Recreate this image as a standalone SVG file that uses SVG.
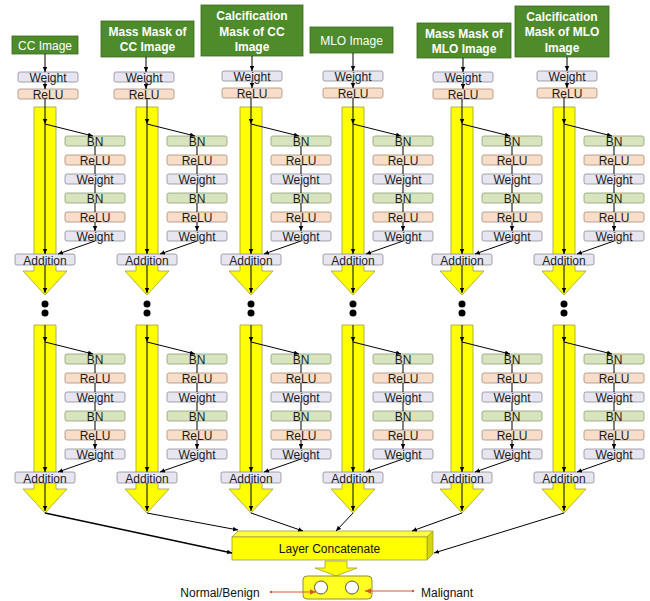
<svg xmlns="http://www.w3.org/2000/svg" width="650" height="601" viewBox="0 0 650 601">
<defs>
<style>
.w{fill:#E7E6F0;stroke:#8C8C98;stroke-width:0.8}
.r{fill:#F8DDC8;stroke:#A58E7C;stroke-width:0.8}
.b{fill:#D7E4BE;stroke:#909F76;stroke-width:0.8}
.t{font-family:"Liberation Sans",Arial,sans-serif;font-size:12px;fill:#1a1a1a;text-anchor:middle}
.g{fill:#4D8B2B;stroke:#3A6A1F;stroke-width:0.8}
.gt{font-family:"Liberation Sans",Arial,sans-serif;font-size:12px;fill:#ffffff;text-anchor:middle}
.gb{font-weight:bold}
.y{fill:#FFFF00;stroke:#9E9E3A;stroke-width:0.8}
.c{stroke:#000;stroke-width:1;fill:none;marker-end:url(#ah)}
.d{fill:#000}
.rd{stroke:#D9582E;stroke-width:1.2;fill:none;marker-end:url(#rh)}
</style>
<marker id="ah" viewBox="0 0 10 10" refX="10" refY="5" markerWidth="5" markerHeight="5" markerUnits="userSpaceOnUse" orient="auto"><path d="M0,0.5 L10,5 L0,9.5 z" fill="#000"/></marker>
<marker id="rh" viewBox="0 0 10 10" refX="10" refY="5" markerWidth="6" markerHeight="6" markerUnits="userSpaceOnUse" orient="auto"><path d="M0,0.5 L10,5 L0,9.5 z" fill="#D9582E"/></marker>
</defs>
<rect width="650" height="601" fill="#ffffff"/>

<!-- yellow flow columns -->
<g id="flows">
<path class="y" d="M34,107 H56 V271 H67 L45,295 L23,271 H34 Z"/>
<path class="y" d="M136,107 H158 V271 H169 L147,295 L125,271 H136 Z"/>
<path class="y" d="M240,107 H262 V271 H273 L251,295 L229,271 H240 Z"/>
<path class="y" d="M342,107 H364 V271 H375 L353,295 L331,271 H342 Z"/>
<path class="y" d="M451,107 H473 V271 H484 L462,295 L440,271 H451 Z"/>
<path class="y" d="M553,107 H575 V271 H586 L564,295 L542,271 H553 Z"/>
<path class="y" d="M34,325 H56 V489 H67 L45,513 L23,489 H34 Z"/>
<path class="y" d="M136,325 H158 V489 H169 L147,513 L125,489 H136 Z"/>
<path class="y" d="M240,325 H262 V489 H273 L251,513 L229,489 H240 Z"/>
<path class="y" d="M342,325 H364 V489 H375 L353,513 L331,489 H342 Z"/>
<path class="y" d="M451,325 H473 V489 H484 L462,513 L440,489 H451 Z"/>
<path class="y" d="M553,325 H575 V489 H586 L564,513 L542,489 H553 Z"/>
</g>

<g id="dots">
<circle class="d" cx="45" cy="304" r="3.5"/><circle class="d" cx="45" cy="313" r="3.5"/>
<circle class="d" cx="147" cy="304" r="3.5"/><circle class="d" cx="147" cy="313" r="3.5"/>
<circle class="d" cx="251" cy="304" r="3.5"/><circle class="d" cx="251" cy="313" r="3.5"/>
<circle class="d" cx="353" cy="304" r="3.5"/><circle class="d" cx="353" cy="313" r="3.5"/>
<circle class="d" cx="462" cy="304" r="3.5"/><circle class="d" cx="462" cy="313" r="3.5"/>
<circle class="d" cx="564" cy="304" r="3.5"/><circle class="d" cx="564" cy="313" r="3.5"/>
</g>

<!-- inputs -->
<g id="in1"><rect class="g" x="12" y="36" width="66" height="18"/><text class="gt" x="45" y="49.5">CC Image</text></g>
<g id="in2"><rect class="g" x="101" y="21" width="93" height="36"/><text class="gt gb" x="147.5" y="36">Mass Mask of</text><text class="gt gb" x="147.5" y="51">CC Image</text></g>
<g id="in3"><rect class="g" x="201" y="5" width="102" height="51"/><text class="gt gb" x="252" y="20">Calcification</text><text class="gt gb" x="252" y="35.5">Mask of CC</text><text class="gt gb" x="252" y="51">Image</text></g>
<g id="in4"><rect class="g" x="310" y="27" width="83" height="26"/><text class="gt" x="351.5" y="45">MLO Image</text></g>
<g id="in5"><rect class="g" x="417" y="23" width="94" height="35"/><text class="gt gb" x="464" y="37.5">Mass Mask of</text><text class="gt gb" x="464" y="53">MLO Image</text></g>
<g id="in6"><rect class="g" x="515" y="6" width="94" height="51"/><text class="gt gb" x="562" y="20.5">Calcification</text><text class="gt gb" x="562" y="36">Mask of MLO</text><text class="gt gb" x="562" y="51.5">Image</text></g>

<!-- top weight/relu -->
<g id="c1_w0"><rect class="w" x="18" y="72" width="60" height="10" rx="2"/><text class="t" x="48" y="82">Weight</text></g>
<g id="c1_r0"><rect class="r" x="18" y="89" width="60" height="10" rx="2"/><text class="t" x="48" y="99">ReLU</text></g>
<g id="c2_w0"><rect class="w" x="114" y="72" width="60" height="10" rx="2"/><text class="t" x="144" y="82">Weight</text></g>
<g id="c2_r0"><rect class="r" x="114" y="89" width="60" height="10" rx="2"/><text class="t" x="144" y="99">ReLU</text></g>
<g id="c3_w0"><rect class="w" x="222" y="71" width="60" height="10" rx="2"/><text class="t" x="252" y="81">Weight</text></g>
<g id="c3_r0"><rect class="r" x="222" y="88" width="60" height="10" rx="2"/><text class="t" x="252" y="98">ReLU</text></g>
<g id="c4_w0"><rect class="w" x="323" y="71" width="60" height="10" rx="2"/><text class="t" x="353" y="81">Weight</text></g>
<g id="c4_r0"><rect class="r" x="323" y="88" width="60" height="10" rx="2"/><text class="t" x="353" y="98">ReLU</text></g>
<g id="c5_w0"><rect class="w" x="433" y="72" width="60" height="10" rx="2"/><text class="t" x="463" y="82">Weight</text></g>
<g id="c5_r0"><rect class="r" x="433" y="89" width="60" height="10" rx="2"/><text class="t" x="463" y="99">ReLU</text></g>
<g id="c6_w0"><rect class="w" x="537" y="71" width="60" height="10" rx="2"/><text class="t" x="567" y="81">Weight</text></g>
<g id="c6_r0"><rect class="r" x="537" y="88" width="60" height="10" rx="2"/><text class="t" x="567" y="98">ReLU</text></g>

<!-- column 1 blocks -->
<g id="c1_b1"><rect class="b" x="65" y="136" width="60" height="10" rx="2"/><text class="t" x="95" y="146">BN</text></g>
<g id="c1_r1"><rect class="r" x="65" y="155" width="60" height="10" rx="2"/><text class="t" x="95" y="165">ReLU</text></g>
<g id="c1_w1"><rect class="w" x="65" y="174" width="60" height="10" rx="2"/><text class="t" x="95" y="184">Weight</text></g>
<g id="c1_b2"><rect class="b" x="65" y="193" width="60" height="10" rx="2"/><text class="t" x="95" y="203">BN</text></g>
<g id="c1_r2"><rect class="r" x="65" y="212" width="60" height="10" rx="2"/><text class="t" x="95" y="222">ReLU</text></g>
<g id="c1_w2"><rect class="w" x="65" y="231" width="60" height="10" rx="2"/><text class="t" x="95" y="241">Weight</text></g>
<g id="c1_a1"><rect class="w" x="15" y="254" width="60" height="11" rx="2"/><text class="t" x="45" y="264.5">Addition</text></g>
<g id="c1_b3"><rect class="b" x="65" y="354" width="60" height="10" rx="2"/><text class="t" x="95" y="364">BN</text></g>
<g id="c1_r3"><rect class="r" x="65" y="373" width="60" height="10" rx="2"/><text class="t" x="95" y="383">ReLU</text></g>
<g id="c1_w3"><rect class="w" x="65" y="392" width="60" height="10" rx="2"/><text class="t" x="95" y="402">Weight</text></g>
<g id="c1_b4"><rect class="b" x="65" y="411" width="60" height="10" rx="2"/><text class="t" x="95" y="421">BN</text></g>
<g id="c1_r4"><rect class="r" x="65" y="430" width="60" height="10" rx="2"/><text class="t" x="95" y="440">ReLU</text></g>
<g id="c1_w4"><rect class="w" x="65" y="449" width="60" height="10" rx="2"/><text class="t" x="95" y="459">Weight</text></g>
<g id="c1_a2"><rect class="w" x="15" y="472" width="60" height="11" rx="2"/><text class="t" x="45" y="482.5">Addition</text></g>

<!-- column 2 -->
<g id="c2_b1"><rect class="b" x="167" y="136" width="60" height="10" rx="2"/><text class="t" x="197" y="146">BN</text></g>
<g id="c2_r1"><rect class="r" x="167" y="155" width="60" height="10" rx="2"/><text class="t" x="197" y="165">ReLU</text></g>
<g id="c2_w1"><rect class="w" x="167" y="174" width="60" height="10" rx="2"/><text class="t" x="197" y="184">Weight</text></g>
<g id="c2_b2"><rect class="b" x="167" y="193" width="60" height="10" rx="2"/><text class="t" x="197" y="203">BN</text></g>
<g id="c2_r2"><rect class="r" x="167" y="212" width="60" height="10" rx="2"/><text class="t" x="197" y="222">ReLU</text></g>
<g id="c2_w2"><rect class="w" x="167" y="231" width="60" height="10" rx="2"/><text class="t" x="197" y="241">Weight</text></g>
<g id="c2_a1"><rect class="w" x="117" y="254" width="60" height="11" rx="2"/><text class="t" x="147" y="264.5">Addition</text></g>
<g id="c2_b3"><rect class="b" x="167" y="354" width="60" height="10" rx="2"/><text class="t" x="197" y="364">BN</text></g>
<g id="c2_r3"><rect class="r" x="167" y="373" width="60" height="10" rx="2"/><text class="t" x="197" y="383">ReLU</text></g>
<g id="c2_w3"><rect class="w" x="167" y="392" width="60" height="10" rx="2"/><text class="t" x="197" y="402">Weight</text></g>
<g id="c2_b4"><rect class="b" x="167" y="411" width="60" height="10" rx="2"/><text class="t" x="197" y="421">BN</text></g>
<g id="c2_r4"><rect class="r" x="167" y="430" width="60" height="10" rx="2"/><text class="t" x="197" y="440">ReLU</text></g>
<g id="c2_w4"><rect class="w" x="167" y="449" width="60" height="10" rx="2"/><text class="t" x="197" y="459">Weight</text></g>
<g id="c2_a2"><rect class="w" x="117" y="472" width="60" height="11" rx="2"/><text class="t" x="147" y="482.5">Addition</text></g>

<!-- column 3 -->
<g id="c3_b1"><rect class="b" x="271" y="136" width="60" height="10" rx="2"/><text class="t" x="301" y="146">BN</text></g>
<g id="c3_r1"><rect class="r" x="271" y="155" width="60" height="10" rx="2"/><text class="t" x="301" y="165">ReLU</text></g>
<g id="c3_w1"><rect class="w" x="271" y="174" width="60" height="10" rx="2"/><text class="t" x="301" y="184">Weight</text></g>
<g id="c3_b2"><rect class="b" x="271" y="193" width="60" height="10" rx="2"/><text class="t" x="301" y="203">BN</text></g>
<g id="c3_r2"><rect class="r" x="271" y="212" width="60" height="10" rx="2"/><text class="t" x="301" y="222">ReLU</text></g>
<g id="c3_w2"><rect class="w" x="271" y="231" width="60" height="10" rx="2"/><text class="t" x="301" y="241">Weight</text></g>
<g id="c3_a1"><rect class="w" x="221" y="254" width="60" height="11" rx="2"/><text class="t" x="251" y="264.5">Addition</text></g>
<g id="c3_b3"><rect class="b" x="271" y="354" width="60" height="10" rx="2"/><text class="t" x="301" y="364">BN</text></g>
<g id="c3_r3"><rect class="r" x="271" y="373" width="60" height="10" rx="2"/><text class="t" x="301" y="383">ReLU</text></g>
<g id="c3_w3"><rect class="w" x="271" y="392" width="60" height="10" rx="2"/><text class="t" x="301" y="402">Weight</text></g>
<g id="c3_b4"><rect class="b" x="271" y="411" width="60" height="10" rx="2"/><text class="t" x="301" y="421">BN</text></g>
<g id="c3_r4"><rect class="r" x="271" y="430" width="60" height="10" rx="2"/><text class="t" x="301" y="440">ReLU</text></g>
<g id="c3_w4"><rect class="w" x="271" y="449" width="60" height="10" rx="2"/><text class="t" x="301" y="459">Weight</text></g>
<g id="c3_a2"><rect class="w" x="221" y="472" width="60" height="11" rx="2"/><text class="t" x="251" y="482.5">Addition</text></g>

<!-- column 4 -->
<g id="c4_b1"><rect class="b" x="373" y="136" width="60" height="10" rx="2"/><text class="t" x="403" y="146">BN</text></g>
<g id="c4_r1"><rect class="r" x="373" y="155" width="60" height="10" rx="2"/><text class="t" x="403" y="165">ReLU</text></g>
<g id="c4_w1"><rect class="w" x="373" y="174" width="60" height="10" rx="2"/><text class="t" x="403" y="184">Weight</text></g>
<g id="c4_b2"><rect class="b" x="373" y="193" width="60" height="10" rx="2"/><text class="t" x="403" y="203">BN</text></g>
<g id="c4_r2"><rect class="r" x="373" y="212" width="60" height="10" rx="2"/><text class="t" x="403" y="222">ReLU</text></g>
<g id="c4_w2"><rect class="w" x="373" y="231" width="60" height="10" rx="2"/><text class="t" x="403" y="241">Weight</text></g>
<g id="c4_a1"><rect class="w" x="323" y="254" width="60" height="11" rx="2"/><text class="t" x="353" y="264.5">Addition</text></g>
<g id="c4_b3"><rect class="b" x="373" y="354" width="60" height="10" rx="2"/><text class="t" x="403" y="364">BN</text></g>
<g id="c4_r3"><rect class="r" x="373" y="373" width="60" height="10" rx="2"/><text class="t" x="403" y="383">ReLU</text></g>
<g id="c4_w3"><rect class="w" x="373" y="392" width="60" height="10" rx="2"/><text class="t" x="403" y="402">Weight</text></g>
<g id="c4_b4"><rect class="b" x="373" y="411" width="60" height="10" rx="2"/><text class="t" x="403" y="421">BN</text></g>
<g id="c4_r4"><rect class="r" x="373" y="430" width="60" height="10" rx="2"/><text class="t" x="403" y="440">ReLU</text></g>
<g id="c4_w4"><rect class="w" x="373" y="449" width="60" height="10" rx="2"/><text class="t" x="403" y="459">Weight</text></g>
<g id="c4_a2"><rect class="w" x="323" y="472" width="60" height="11" rx="2"/><text class="t" x="353" y="482.5">Addition</text></g>

<!-- column 5 -->
<g id="c5_b1"><rect class="b" x="482" y="136" width="60" height="10" rx="2"/><text class="t" x="512" y="146">BN</text></g>
<g id="c5_r1"><rect class="r" x="482" y="155" width="60" height="10" rx="2"/><text class="t" x="512" y="165">ReLU</text></g>
<g id="c5_w1"><rect class="w" x="482" y="174" width="60" height="10" rx="2"/><text class="t" x="512" y="184">Weight</text></g>
<g id="c5_b2"><rect class="b" x="482" y="193" width="60" height="10" rx="2"/><text class="t" x="512" y="203">BN</text></g>
<g id="c5_r2"><rect class="r" x="482" y="212" width="60" height="10" rx="2"/><text class="t" x="512" y="222">ReLU</text></g>
<g id="c5_w2"><rect class="w" x="482" y="231" width="60" height="10" rx="2"/><text class="t" x="512" y="241">Weight</text></g>
<g id="c5_a1"><rect class="w" x="432" y="254" width="60" height="11" rx="2"/><text class="t" x="462" y="264.5">Addition</text></g>
<g id="c5_b3"><rect class="b" x="482" y="354" width="60" height="10" rx="2"/><text class="t" x="512" y="364">BN</text></g>
<g id="c5_r3"><rect class="r" x="482" y="373" width="60" height="10" rx="2"/><text class="t" x="512" y="383">ReLU</text></g>
<g id="c5_w3"><rect class="w" x="482" y="392" width="60" height="10" rx="2"/><text class="t" x="512" y="402">Weight</text></g>
<g id="c5_b4"><rect class="b" x="482" y="411" width="60" height="10" rx="2"/><text class="t" x="512" y="421">BN</text></g>
<g id="c5_r4"><rect class="r" x="482" y="430" width="60" height="10" rx="2"/><text class="t" x="512" y="440">ReLU</text></g>
<g id="c5_w4"><rect class="w" x="482" y="449" width="60" height="10" rx="2"/><text class="t" x="512" y="459">Weight</text></g>
<g id="c5_a2"><rect class="w" x="432" y="472" width="60" height="11" rx="2"/><text class="t" x="462" y="482.5">Addition</text></g>

<!-- column 6 -->
<g id="c6_b1"><rect class="b" x="584" y="136" width="60" height="10" rx="2"/><text class="t" x="614" y="146">BN</text></g>
<g id="c6_r1"><rect class="r" x="584" y="155" width="60" height="10" rx="2"/><text class="t" x="614" y="165">ReLU</text></g>
<g id="c6_w1"><rect class="w" x="584" y="174" width="60" height="10" rx="2"/><text class="t" x="614" y="184">Weight</text></g>
<g id="c6_b2"><rect class="b" x="584" y="193" width="60" height="10" rx="2"/><text class="t" x="614" y="203">BN</text></g>
<g id="c6_r2"><rect class="r" x="584" y="212" width="60" height="10" rx="2"/><text class="t" x="614" y="222">ReLU</text></g>
<g id="c6_w2"><rect class="w" x="584" y="231" width="60" height="10" rx="2"/><text class="t" x="614" y="241">Weight</text></g>
<g id="c6_a1"><rect class="w" x="534" y="254" width="60" height="11" rx="2"/><text class="t" x="564" y="264.5">Addition</text></g>
<g id="c6_b3"><rect class="b" x="584" y="354" width="60" height="10" rx="2"/><text class="t" x="614" y="364">BN</text></g>
<g id="c6_r3"><rect class="r" x="584" y="373" width="60" height="10" rx="2"/><text class="t" x="614" y="383">ReLU</text></g>
<g id="c6_w3"><rect class="w" x="584" y="392" width="60" height="10" rx="2"/><text class="t" x="614" y="402">Weight</text></g>
<g id="c6_b4"><rect class="b" x="584" y="411" width="60" height="10" rx="2"/><text class="t" x="614" y="421">BN</text></g>
<g id="c6_r4"><rect class="r" x="584" y="430" width="60" height="10" rx="2"/><text class="t" x="614" y="440">ReLU</text></g>
<g id="c6_w4"><rect class="w" x="584" y="449" width="60" height="10" rx="2"/><text class="t" x="614" y="459">Weight</text></g>
<g id="c6_a2"><rect class="w" x="534" y="472" width="60" height="11" rx="2"/><text class="t" x="564" y="482.5">Addition</text></g>

<!-- concatenate -->
<g id="concat">
<polygon points="232,537 238,531 433,531 427,537" fill="#FFFF40" stroke="#9E9E3A" stroke-width="0.8"/>
<polygon points="427,537 433,531 433,554 427,560" fill="#D6D600" stroke="#9E9E3A" stroke-width="0.8"/>
<rect x="232" y="537" width="195" height="23" fill="#FFFF00" stroke="#9E9E3A" stroke-width="0.8"/>
<text class="t" x="329.5" y="553" style="fill:#111">Layer Concatenate</text>
</g>
<g id="down"><path class="y" d="M325,561 H347 V568 H357 L336,576 L315,568 H325 Z"/></g>
<g id="output">
<rect x="303" y="576" width="69" height="23" rx="4" fill="#FFFF22" stroke="#8E8E3A" stroke-width="1"/>
<circle cx="321" cy="587.5" r="6.5" fill="#fff" stroke="#555" stroke-width="1"/>
<circle cx="352" cy="587.5" r="6.5" fill="#fff" stroke="#555" stroke-width="1"/>
</g>
<g id="labels">
<text class="t" x="220" y="597" style="fill:#111">Normal/Benign</text>
<text class="t" x="447" y="597" style="fill:#111">Malignant</text>
</g>

<!-- connectors -->
<g id="connectors">
<!-- inputs to weight -->
<path class="c" d="M45,54 V72"/><path class="c" d="M146,57 V72"/><path class="c" d="M252,56 V71"/><path class="c" d="M353,53 V71"/><path class="c" d="M463,58 V72"/><path class="c" d="M567,57 V71"/>
<path class="c" d="M45,82 V89"/><path class="c" d="M146,82 V89"/><path class="c" d="M252,81 V88"/><path class="c" d="M353,81 V88"/><path class="c" d="M463,82 V89"/><path class="c" d="M567,81 V88"/>
<!-- relu to junction -->
<path class="c" d="M45,99 V124"/><path class="c" d="M147,99 V124"/><path class="c" d="M251,98 V124"/><path class="c" d="M353,98 V124"/><path class="c" d="M462,99 V124"/><path class="c" d="M564,98 V124"/>
<!-- block1 skip lines and branches, col1..6 -->
<path class="c" d="M45,124 V254"/><path class="c" d="M45,124 L93,136"/><path class="c" d="M95,241 L58,254"/><path class="c" d="M45,265 V293"/>
<path class="c" d="M147,124 V254"/><path class="c" d="M147,124 L195,136"/><path class="c" d="M197,241 L160,254"/><path class="c" d="M147,265 V293"/>
<path class="c" d="M251,124 V254"/><path class="c" d="M251,124 L299,136"/><path class="c" d="M301,241 L264,254"/><path class="c" d="M251,265 V293"/>
<path class="c" d="M353,124 V254"/><path class="c" d="M353,124 L401,136"/><path class="c" d="M403,241 L366,254"/><path class="c" d="M353,265 V293"/>
<path class="c" d="M462,124 V254"/><path class="c" d="M462,124 L510,136"/><path class="c" d="M512,241 L475,254"/><path class="c" d="M462,265 V293"/>
<path class="c" d="M564,124 V254"/><path class="c" d="M564,124 L612,136"/><path class="c" d="M614,241 L577,254"/><path class="c" d="M564,265 V293"/>
<!-- block2 -->
<path class="c" d="M45,325 V342"/><path class="c" d="M45,342 V472"/><path class="c" d="M45,342 L93,354"/><path class="c" d="M95,459 L58,472"/><path class="c" d="M45,483 V511"/>
<path class="c" d="M147,325 V342"/><path class="c" d="M147,342 V472"/><path class="c" d="M147,342 L195,354"/><path class="c" d="M197,459 L160,472"/><path class="c" d="M147,483 V511"/>
<path class="c" d="M251,325 V342"/><path class="c" d="M251,342 V472"/><path class="c" d="M251,342 L299,354"/><path class="c" d="M301,459 L264,472"/><path class="c" d="M251,483 V511"/>
<path class="c" d="M353,325 V342"/><path class="c" d="M353,342 V472"/><path class="c" d="M353,342 L401,354"/><path class="c" d="M403,459 L366,472"/><path class="c" d="M353,483 V511"/>
<path class="c" d="M462,325 V342"/><path class="c" d="M462,342 V472"/><path class="c" d="M462,342 L510,354"/><path class="c" d="M512,459 L475,472"/><path class="c" d="M462,483 V511"/>
<path class="c" d="M564,325 V342"/><path class="c" d="M564,342 V472"/><path class="c" d="M564,342 L612,354"/><path class="c" d="M614,459 L577,472"/><path class="c" d="M564,483 V511"/>
<!-- inner chain arrows -->
<path class="c" d="M95,146 V155 M95,165 V174 M95,184 V193 M95,203 V212 M95,222 V231"/>
<path class="c" d="M95,364 V373 M95,383 V392 M95,402 V411 M95,421 V430 M95,440 V449"/>
<path class="c" d="M197,146 V155 M197,165 V174 M197,184 V193 M197,203 V212 M197,222 V231"/>
<path class="c" d="M197,364 V373 M197,383 V392 M197,402 V411 M197,421 V430 M197,440 V449"/>
<path class="c" d="M301,146 V155 M301,165 V174 M301,184 V193 M301,203 V212 M301,222 V231"/>
<path class="c" d="M301,364 V373 M301,383 V392 M301,402 V411 M301,421 V430 M301,440 V449"/>
<path class="c" d="M403,146 V155 M403,165 V174 M403,184 V193 M403,203 V212 M403,222 V231"/>
<path class="c" d="M403,364 V373 M403,383 V392 M403,402 V411 M403,421 V430 M403,440 V449"/>
<path class="c" d="M512,146 V155 M512,165 V174 M512,184 V193 M512,203 V212 M512,222 V231"/>
<path class="c" d="M512,364 V373 M512,383 V392 M512,402 V411 M512,421 V430 M512,440 V449"/>
<path class="c" d="M614,146 V155 M614,165 V174 M614,184 V193 M614,203 V212 M614,222 V231"/>
<path class="c" d="M614,364 V373 M614,383 V392 M614,402 V411 M614,421 V430 M614,440 V449"/>
<!-- to concatenate -->
<path class="c" style="stroke-width:1.4" d="M45,513 L232,553"/>
<path class="c" d="M147,513 L238,530"/>
<path class="c" d="M251,513 L303,531"/>
<path class="c" d="M353,513 L336,531"/>
<path class="c" d="M462,513 L412,531"/>
<path class="c" d="M564,513 L434,553"/>
<!-- outputs -->
<circle cx="271" cy="592" r="1.2" fill="#D9582E"/>
<path class="rd" d="M271,592 H316"/>
<circle cx="413" cy="591" r="1.2" fill="#D9582E"/>
<path class="rd" d="M413,591 H365"/>
</g>
</svg>
